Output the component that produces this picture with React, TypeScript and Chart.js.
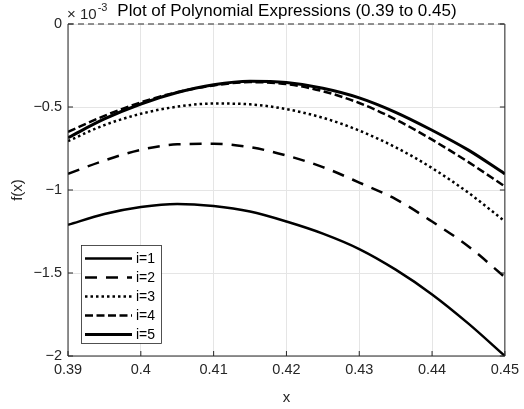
import React, { useEffect, useRef } from "react";
import { Chart, registerables } from "chart.js";

Chart.register(...registerables);

// x positions (sampled) and series values (in units of 1e-3)
const xValues = [0.39, 0.395, 0.4, 0.405, 0.41, 0.415, 0.42, 0.425, 0.43, 0.435, 0.44, 0.445, 0.45];
const series1 = [-1.21, -1.145, -1.103, -1.084, -1.097, -1.13, -1.19, -1.263, -1.356, -1.48, -1.629, -1.805, -2.0];
const series2 = [-0.903, -0.822, -0.758, -0.725, -0.721, -0.742, -0.792, -0.862, -0.955, -1.055, -1.19, -1.34, -1.525];
const series3 = [-0.705, -0.609, -0.541, -0.498, -0.479, -0.484, -0.513, -0.565, -0.642, -0.743, -0.868, -1.017, -1.189];
const series4 = [-0.65, -0.553, -0.472, -0.411, -0.37, -0.35, -0.362, -0.405, -0.476, -0.575, -0.697, -0.832, -0.979];
const series5 = [-0.685, -0.572, -0.482, -0.413, -0.366, -0.345, -0.353, -0.387, -0.445, -0.532, -0.64, -0.76, -0.903];
const zeroLine = [0, 0];
const zeroLineX = [0.39, 0.45];

const legendLabels = ["i=1", "i=2", "i=3", "i=4", "i=5"];
const xTickValues = [0.39, 0.4, 0.41, 0.42, 0.43, 0.44, 0.45];
const xTickLabels = ["0.39", "0.4", "0.41", "0.42", "0.43", "0.44", "0.45"];
const yTickValues = [-2, -1.5, -1, -0.5, 0];
const yTickLabels = ["\u22122", "\u22121.5", "\u22121", "\u22120.5", "0"];

const titleText = "Plot of Polynomial Expressions (0.39 to 0.45)";
const xLabel = "x";
const yLabel = "f(x)";
const FONT = "'Liberation Sans', Arial, Helvetica, sans-serif";
const AXIS_COLOR = "#262626";

const seriesStyles = [
  { width: 2.5, dash: [] as number[] },
  { width: 2.5, dash: [12, 9] },
  { width: 2.5, dash: [2.5, 3] },
  { width: 2.5, dash: [8, 3.5] },
  { width: 3, dash: [] as number[] },
];

const decorPlugin = {
  id: "decor",
  afterDatasetsDraw(chart: any) {
    const ctx = chart.ctx as CanvasRenderingContext2D;
    const { left, right, top, bottom } = chart.chartArea;
    const xs = chart.scales.x;
    const ys = chart.scales.y;
    ctx.save();
    // box (left, right, bottom)
    ctx.strokeStyle = AXIS_COLOR;
    ctx.lineWidth = 1;
    ctx.setLineDash([]);
    ctx.beginPath();
    ctx.moveTo(left, top);
    ctx.lineTo(left, bottom);
    ctx.lineTo(right, bottom);
    ctx.lineTo(right, top);
    ctx.stroke();
    // inward ticks
    const tl = 5;
    ctx.beginPath();
    xTickValues.forEach((v) => {
      const px = xs.getPixelForValue(v);
      ctx.moveTo(px, bottom);
      ctx.lineTo(px, bottom - tl);
    });
    yTickValues.forEach((v) => {
      const py = ys.getPixelForValue(v);
      ctx.moveTo(left, py);
      ctx.lineTo(left + tl, py);
      ctx.moveTo(right, py);
      ctx.lineTo(right - tl, py);
    });
    ctx.stroke();

    // legend
    const lx0 = 81, ly0 = 245, lw = 80, lh = 98;
    ctx.fillStyle = "#ffffff";
    ctx.fillRect(lx0, ly0, lw, lh);
    ctx.strokeStyle = AXIS_COLOR;
    ctx.lineWidth = 0.8;
    ctx.strokeRect(lx0 + 0.5, ly0 + 0.5, lw, lh);
    ctx.font = `14px ${FONT}`;
    ctx.textBaseline = "middle";
    ctx.textAlign = "left";
    legendLabels.forEach((lab, i) => {
      const y = 258.5 + i * 19;
      const st = seriesStyles[i];
      ctx.strokeStyle = "#000";
      ctx.lineWidth = st.width;
      ctx.setLineDash(st.dash);
      ctx.beginPath();
      ctx.moveTo(85, y);
      ctx.lineTo(132, y);
      ctx.stroke();
      ctx.setLineDash([]);
      ctx.fillStyle = "#000";
      ctx.fillText(lab, 136, y + 0.5);
    });

    // title
    ctx.fillStyle = "#000";
    ctx.font = `17px ${FONT}`;
    ctx.textAlign = "center";
    ctx.textBaseline = "middle";
    ctx.fillText(titleText, (left + right) / 2 + 0.5, 11);
    // exponent
    ctx.fillStyle = AXIS_COLOR;
    ctx.textAlign = "left";
    ctx.font = `15px ${FONT}`;
    ctx.fillText("\u00d7", left - 1, 15);
    ctx.fillText("10", left + 12, 15);
    const w = ctx.measureText("10").width;
    ctx.font = `11px ${FONT}`;
    ctx.fillText("-3", left + 12 + w + 1, 8);
    // axis labels
    ctx.font = `15px ${FONT}`;
    ctx.textAlign = "center";
    ctx.fillText(xLabel, (left + right) / 2, 398);
    ctx.translate(18, (top + bottom) / 2);
    ctx.rotate(-Math.PI / 2);
    ctx.fillText(yLabel, 0, 0);
    ctx.restore();
  },
};

export default function App() {
  const ref = useRef<HTMLCanvasElement | null>(null);
  useEffect(() => {
    if (!ref.current) return;
    const all = [series1, series2, series3, series4, series5];
    const datasets: any[] = all.map((s, i) => ({
      label: legendLabels[i],
      data: xValues.map((x, k) => ({ x, y: s[k] })),
      borderColor: "#000000",
      borderWidth: seriesStyles[i].width,
      borderDash: seriesStyles[i].dash,
      pointRadius: 0,
      fill: false,
      cubicInterpolationMode: "monotone",
    }));
    datasets.push({
      label: "zero",
      data: zeroLineX.map((x, k) => ({ x, y: zeroLine[k] })),
      borderColor: "#6e6e6e",
      borderWidth: 1.5,
      borderDash: [6, 4],
      pointRadius: 0,
      fill: false,
      clip: 4,
    });
    const chart = new Chart(ref.current, {
      type: "line",
      data: { datasets },
      options: {
        animation: false,
        responsive: false,
        maintainAspectRatio: false,
        layout: { padding: { top: 24, right: 14, left: 0, bottom: 0 } },
        plugins: {
          legend: { display: false },
          title: { display: false },
          tooltip: { enabled: false },
        },
        scales: {
          x: {
            type: "linear",
            min: 0.39,
            max: 0.45,
            afterBuildTicks: (s: any) => {
              s.ticks = xTickValues.map((v) => ({ value: v }));
            },
            afterFit: (s: any) => {
              s.height = 53;
            },
            ticks: {
              callback: (_v: any, i: number) => xTickLabels[i],
              font: { family: FONT, size: 14.5 },
              color: AXIS_COLOR,
              padding: 5,
              maxRotation: 0,
            },
            grid: { color: "#e5e5e5", drawTicks: false, lineWidth: 1 },
            border: { display: false },
          },
          y: {
            type: "linear",
            min: -2,
            max: 0,
            afterBuildTicks: (s: any) => {
              s.ticks = yTickValues.map((v) => ({ value: v }));
            },
            afterFit: (s: any) => {
              s.width = 68;
            },
            ticks: {
              callback: (_v: any, i: number) => yTickLabels[i],
              font: { family: FONT, size: 14.5 },
              color: AXIS_COLOR,
              padding: 6,
            },
            grid: { color: "#e5e5e5", drawTicks: false, lineWidth: 1 },
            border: { display: false },
          },
        },
      } as any,
      plugins: [decorPlugin],
    });
    return () => chart.destroy();
  }, []);
  return (
    <div style={{ position: "absolute", left: 0, top: 0, width: 524, height: 409, background: "#fff" }}>
      <canvas ref={ref} width={524} height={409} style={{ display: "block" }} />
    </div>
  );
}
